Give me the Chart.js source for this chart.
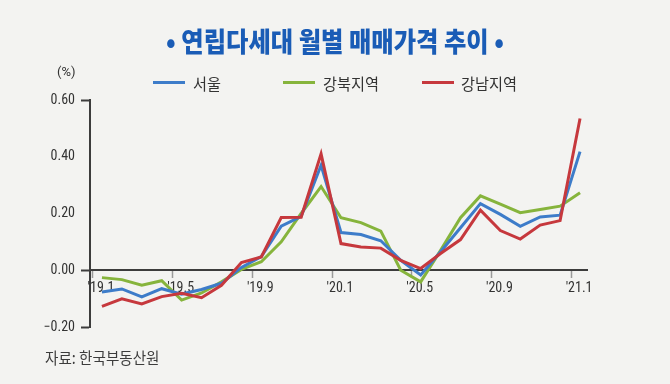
<!DOCTYPE html>
<html><head><meta charset="utf-8">
<script src="https://cdn.jsdelivr.net/npm/chart.js@4/dist/chart.umd.min.js"></script>
<style>
html,body{margin:0;padding:0;background:#f3f3f1;}
#wrap{position:relative;width:670px;height:384px;overflow:hidden;background:#f3f3f1;}
#c{position:absolute;left:0;top:0;}
.t{position:absolute;white-space:nowrap;font-family:"Noto Sans CJK KR","Noto Sans",sans-serif;}
#title{left:0;width:670px;top:22px;height:38px;line-height:38px;text-align:center;font-size:27px;font-weight:900;color:#1a5cb6;transform:scaleX(0.9);transform-origin:335px 50%;}
#unit{left:57px;top:64px;font-family:"Roboto",sans-serif;font-size:13px;color:#333;}
.lg{position:absolute;height:3px;width:32px;top:81px;}
.lt{top:72px;height:22px;line-height:22px;font-size:16px;color:#333;transform:scaleX(0.95);transform-origin:0 50%;}
#src{left:45px;top:346px;height:22px;line-height:22px;font-size:16px;color:#3c3c3c;transform:scaleX(0.91);transform-origin:0 50%;}
</style></head>
<body>
<div id="wrap">
<canvas id="c" width="670" height="384"></canvas>
<div class="t" id="title">• 연립다세대 월별 매매가격 추이 •</div>
<div class="t" id="unit">(%)</div>
<div class="lg" style="left:153px;background:#3d7cc9"></div>
<div class="t lt" style="left:193px">서울</div>
<div class="lg" style="left:283px;background:#86b43c"></div>
<div class="t lt" style="left:323px">강북지역</div>
<div class="lg" style="left:422px;background:#c6383d"></div>
<div class="t lt" style="left:461px">강남지역</div>
<div class="t" id="src">자료: 한국부동산원</div>
</div>
<script>
// Months: Jan 2019 .. Jan 2021
const months = ["'19.1","'19.2","'19.3","'19.4","'19.5","'19.6","'19.7","'19.8","'19.9","'19.10","'19.11","'19.12",
                "'20.1","'20.2","'20.3","'20.4","'20.5","'20.6","'20.7","'20.8","'20.9","'20.10","'20.11","'20.12","'21.1"];
const seoul   = [-0.077,-0.066,-0.094,-0.065,-0.084,-0.068,-0.046,0.010,0.048,0.155,0.190,0.370,
                 0.133,0.126,0.104,0.035,-0.017,0.065,0.150,0.235,0.197,0.155,0.188,0.194,0.418];
const gangbuk = [-0.026,-0.033,-0.053,-0.037,-0.105,-0.080,-0.041,0.003,0.030,0.100,0.200,0.295,
                 0.185,0.168,0.138,0.000,-0.041,0.070,0.185,0.262,0.233,0.203,0.214,0.226,0.273];
const gangnam = [-0.127,-0.101,-0.119,-0.093,-0.081,-0.097,-0.053,0.027,0.047,0.186,0.187,0.410,
                 0.094,0.082,0.078,0.035,0.006,0.059,0.108,0.212,0.140,0.110,0.159,0.175,0.535];
const xTickLabels = ["'19.1","'19.5","'19.9","'20.1","'20.5","'20.9","'21.1"];
const yTickValues = [-0.2, 0, 0.2, 0.4, 0.6];

const toPts = arr => arr.map((v, i) => ({x: i, y: v}));
const numFont = {family: "'Liberation Sans Narrow','Roboto Condensed','Roboto',sans-serif", size: 14};

new Chart(document.getElementById('c'), {
  type: 'line',
  data: {
    datasets: [
      {label: '서울', data: toPts(seoul), borderColor: '#3d7cc9', order: 2},
      {label: '강북지역', data: toPts(gangbuk), borderColor: '#86b43c', order: 3},
      {label: '강남지역', data: toPts(gangnam), borderColor: '#c6383d', order: 1}
    ]
  },
  options: {
    responsive: false,
    animation: false,
    layout: {padding: {left: 0, top: 100, right: 83, bottom: 57}},
    elements: {
      line: {borderWidth: 3, tension: 0, fill: false},
      point: {radius: 0, hoverRadius: 0}
    },
    plugins: {legend: {display: false}, title: {display: false}, tooltip: {enabled: false}},
    scales: {
      x: {
        type: 'linear',
        position: {y: 0},
        min: -0.6, max: 24.35,
        afterBuildTicks: s => { s.ticks = xTickLabels.map((_, k) => ({value: k * 4 - 0.45})); },
        ticks: {
          autoSkip: false, maxRotation: 0, minRotation: 0,
          labelOffset: 8, padding: 3,
          color: '#333', font: numFont,
          callback: (v, i) => xTickLabels[i]
        },
        grid: {drawOnChartArea: false, tickLength: 7, tickColor: '#9a9a9a', tickWidth: 1.5},
        border: {color: '#3c3c3c', width: 2}
      },
      y: {
        min: -0.2, max: 0.6,
        afterFit: s => { s.width = 90; },
        afterBuildTicks: s => { s.ticks = yTickValues.map(v => ({value: v})); },
        ticks: {
          padding: 6, color: '#333', font: numFont,
          callback: v => (v < -1e-9 ? '\u2212' : '') + Math.abs(v).toFixed(2)
        },
        grid: {
          drawOnChartArea: false, tickLength: 9, tickWidth: 2,
          tickColor: ctx => {
            const v = ctx.tick ? ctx.tick.value : 1;
            return (Math.abs(v - 0.6) < 1e-6 || Math.abs(v + 0.2) < 1e-6 || Math.abs(v) < 1e-6) ? '#3c3c3c' : 'rgba(0,0,0,0)';
          }
        },
        border: {color: '#3c3c3c', width: 2}
      }
    }
  }
});
</script>
</body></html>
